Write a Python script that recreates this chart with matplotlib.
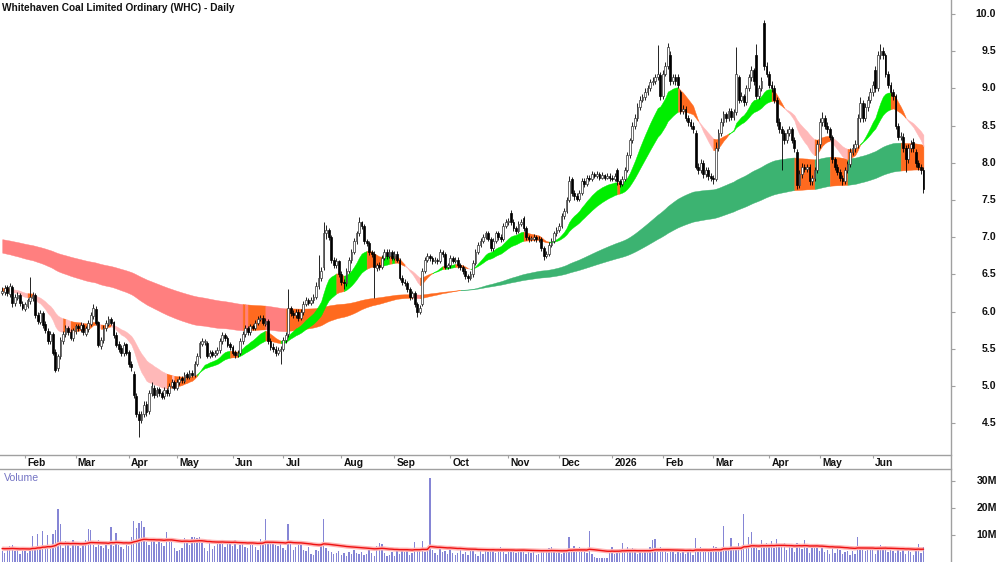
import numpy as np
import pandas as pd
import matplotlib
matplotlib.use("Agg")
import matplotlib.pyplot as plt
from matplotlib.lines import Line2D
from matplotlib.transforms import blended_transform_factory

plt.rcParams['font.family'] = ['Liberation Sans', 'DejaVu Sans']

# --- daily prices ($) ---
opens = [
    6.25, 6.26, 6.33, 6.24, 6.33, 6.12, 6.18, 6.22, 6.10, 6.04,
    6.08, 6.14, 6.18, 6.22, 5.96, 5.86, 5.98, 5.83, 5.74, 5.60,
    5.70, 5.46, 5.24, 5.40, 5.60, 5.70, 5.78, 5.72, 5.64, 5.74,
    5.80, 5.76, 5.82, 5.70, 5.77, 5.84, 5.94, 6.04, 5.86, 5.54,
    5.62, 5.78, 5.84, 5.90, 5.86, 5.68, 5.56, 5.51, 5.44, 5.56,
    5.46, 5.30, 5.16, 4.86, 4.62, 4.54, 4.62, 4.76, 4.66, 4.90,
    4.98, 4.88, 4.96, 4.90, 4.86, 4.95, 4.90, 5.00, 5.05, 4.98,
    5.05, 5.11, 5.07, 5.16, 5.12, 5.18, 5.15, 5.30, 5.40, 5.57,
    5.59, 5.58, 5.40, 5.46, 5.42, 5.45, 5.48, 5.60, 5.68, 5.64,
    5.56, 5.52, 5.46, 5.42, 5.45, 5.60, 5.70, 5.78, 5.72, 5.80,
    5.78, 5.85, 5.90, 5.92, 5.84, 5.88, 5.60, 5.53, 5.50, 5.45,
    5.47, 5.50, 5.62, 5.70, 6.05, 5.98, 5.95, 6.00, 5.92, 6.00,
    6.10, 6.15, 6.12, 6.15, 6.20, 6.35, 6.45, 6.60, 7.05, 7.10,
    7.00, 6.70, 6.62, 6.68, 6.50, 6.40, 6.38, 6.55, 6.70, 6.80,
    6.95, 7.05, 7.20, 7.15, 6.95, 6.92, 6.80, 6.78, 6.58, 6.63,
    6.60, 6.72, 6.80, 6.75, 6.80, 6.72, 6.78, 6.70, 6.45, 6.40,
    6.38, 6.30, 6.20, 6.25, 6.10, 6.00, 6.10, 6.55, 6.70, 6.75,
    6.72, 6.68, 6.70, 6.68, 6.80, 6.78, 6.60, 6.62, 6.72, 6.68,
    6.70, 6.62, 6.60, 6.55, 6.48, 6.45, 6.50, 6.65, 6.80, 6.90,
    6.95, 7.00, 7.05, 6.98, 6.85, 6.95, 7.05, 7.00, 6.98, 7.15,
    7.20, 7.32, 7.20, 7.12, 7.08, 7.18, 7.26, 7.12, 7.00, 6.98,
    6.98, 7.00, 6.97, 6.98, 6.85, 6.75, 6.78, 6.90, 6.95, 7.05,
    7.10, 7.15, 7.28, 7.35, 7.50, 7.78, 7.60, 7.55, 7.52, 7.60,
    7.75, 7.72, 7.80, 7.78, 7.85, 7.82, 7.85, 7.80, 7.83, 7.80,
    7.82, 7.80, 7.78, 7.90, 7.75, 7.72, 7.78, 7.90, 8.10, 8.30,
    8.50, 8.60, 8.75, 8.85, 8.88, 8.95, 9.00, 9.08, 9.10, 9.15,
    9.18, 8.90, 9.20, 9.30, 9.45, 9.10, 9.15, 9.15, 8.95, 8.70,
    8.72, 8.60, 8.55, 8.50, 8.40, 7.95, 7.90, 8.00, 7.85, 7.90,
    7.82, 7.80, 7.78, 8.20, 8.40, 8.55, 8.65, 8.60, 8.70, 8.62,
    8.68, 9.15, 8.85, 8.90, 8.82, 9.00, 9.15, 9.25, 9.45, 8.90,
    9.00, 9.88, 9.30, 9.20, 9.05, 9.00, 8.85, 8.55, 8.45, 8.40,
    8.30, 8.40, 8.45, 8.30, 8.15, 7.70, 7.85, 7.95, 7.92, 7.95,
    7.75, 7.80, 7.90, 8.25, 8.55, 8.60, 8.50, 8.45, 8.35, 8.05,
    7.95, 7.88, 7.80, 7.75, 7.90, 7.98, 8.15, 8.20, 8.25, 8.60,
    8.80, 8.60, 8.75, 8.85, 8.95, 9.25, 9.00, 9.45, 9.50, 9.45,
    9.20, 9.05, 8.95, 8.90, 8.50, 8.35, 8.35, 8.20, 8.05, 8.20,
    8.28, 8.15, 8.00, 7.95, 7.90,
]
highs = [
    6.33, 6.36, 6.36, 6.38, 6.36, 6.24, 6.26, 6.25, 6.14, 6.13,
    6.18, 6.47, 6.26, 6.25, 6.00, 6.02, 6.01, 5.88, 5.78, 5.74,
    5.72, 5.50, 5.43, 5.66, 5.74, 5.82, 5.81, 5.76, 5.78, 5.84,
    5.84, 5.86, 5.85, 5.81, 5.89, 5.99, 6.10, 6.07, 5.88, 5.66,
    5.82, 5.89, 5.94, 5.93, 5.88, 5.72, 5.60, 5.55, 5.59, 5.58,
    5.48, 5.34, 5.20, 4.90, 4.66, 4.66, 4.80, 4.80, 4.94, 5.05,
    5.02, 4.99, 4.99, 4.93, 4.99, 4.98, 5.04, 5.09, 5.08, 5.09,
    5.14, 5.14, 5.19, 5.19, 5.22, 5.22, 5.34, 5.44, 5.61, 5.64,
    5.63, 5.61, 5.49, 5.48, 5.49, 5.52, 5.64, 5.72, 5.71, 5.67,
    5.59, 5.55, 5.48, 5.49, 5.64, 5.74, 5.82, 5.80, 5.84, 5.83,
    5.89, 5.94, 5.96, 5.95, 5.91, 5.90, 5.64, 5.58, 5.54, 5.52,
    5.54, 5.66, 5.72, 6.30, 6.08, 6.02, 6.04, 6.03, 6.04, 6.14,
    6.19, 6.18, 6.19, 6.24, 6.40, 6.76, 6.60, 7.20, 7.16, 7.13,
    7.03, 6.74, 6.72, 6.70, 6.54, 6.44, 6.59, 6.74, 6.84, 6.99,
    7.09, 7.27, 7.22, 7.18, 6.98, 6.95, 6.83, 6.82, 6.66, 6.67,
    6.76, 6.84, 6.84, 6.84, 6.83, 6.82, 6.81, 6.72, 6.49, 6.44,
    6.41, 6.33, 6.28, 6.28, 6.13, 6.09, 6.59, 6.74, 6.79, 6.78,
    6.75, 6.74, 6.72, 6.84, 6.83, 6.80, 6.66, 6.76, 6.75, 6.74,
    6.73, 6.65, 6.63, 6.58, 6.51, 6.54, 6.69, 6.84, 6.94, 6.99,
    7.04, 7.09, 7.08, 7.00, 6.99, 7.09, 7.08, 7.04, 7.19, 7.24,
    7.26, 7.36, 7.24, 7.15, 7.22, 7.24, 7.29, 7.15, 7.03, 7.02,
    7.04, 7.03, 7.01, 7.00, 6.88, 6.81, 6.94, 6.99, 7.09, 7.14,
    7.19, 7.32, 7.39, 7.54, 7.82, 7.81, 7.64, 7.59, 7.64, 7.79,
    7.79, 7.84, 7.83, 7.89, 7.88, 7.89, 7.87, 7.87, 7.85, 7.86,
    7.86, 7.83, 7.86, 7.93, 7.78, 7.82, 7.94, 8.14, 8.34, 8.55,
    8.65, 8.80, 8.90, 8.92, 9.00, 9.05, 9.12, 9.15, 9.20, 9.58,
    9.22, 9.25, 9.35, 9.61, 9.50, 9.20, 9.19, 9.19, 8.98, 8.78,
    8.76, 8.64, 8.59, 8.55, 8.44, 8.00, 8.05, 8.04, 7.94, 7.94,
    7.86, 7.84, 8.28, 8.46, 8.60, 8.70, 8.68, 8.74, 8.73, 8.72,
    9.56, 9.18, 8.95, 8.93, 9.05, 9.20, 9.30, 9.28, 9.60, 9.05,
    9.15, 9.92, 9.35, 9.24, 9.10, 9.04, 8.88, 8.60, 8.50, 8.44,
    8.45, 8.50, 8.48, 8.35, 8.18, 7.90, 8.00, 7.99, 7.99, 7.98,
    7.84, 7.94, 8.30, 8.60, 8.68, 8.64, 8.55, 8.48, 8.38, 8.08,
    7.98, 7.92, 7.84, 7.94, 8.02, 8.20, 8.25, 8.30, 8.65, 8.88,
    8.84, 8.80, 8.90, 9.00, 9.10, 9.30, 9.50, 9.60, 9.55, 9.48,
    9.24, 9.08, 8.99, 8.93, 8.54, 8.42, 8.40, 8.24, 8.25, 8.30,
    8.33, 8.18, 8.04, 7.99, 7.94,
]
lows = [
    6.22, 6.22, 6.21, 6.20, 6.06, 6.08, 6.15, 6.08, 6.02, 6.01,
    6.05, 6.10, 6.14, 5.92, 5.84, 5.83, 5.78, 5.71, 5.56, 5.56,
    5.42, 5.19, 5.20, 5.36, 5.56, 5.66, 5.68, 5.62, 5.60, 5.70,
    5.74, 5.72, 5.68, 5.67, 5.73, 5.81, 5.90, 5.82, 5.52, 5.50,
    5.58, 5.74, 5.80, 5.82, 5.64, 5.52, 5.46, 5.40, 5.41, 5.42,
    5.26, 5.20, 4.84, 4.58, 4.31, 4.50, 4.58, 4.60, 4.62, 4.86,
    4.84, 4.85, 4.86, 4.82, 4.83, 4.86, 4.87, 4.97, 4.94, 4.95,
    5.02, 5.04, 5.04, 5.09, 5.09, 5.12, 5.12, 5.27, 5.37, 5.54,
    5.55, 5.37, 5.37, 5.39, 5.39, 5.42, 5.45, 5.56, 5.61, 5.52,
    5.48, 5.42, 5.38, 5.39, 5.42, 5.57, 5.66, 5.69, 5.69, 5.75,
    5.75, 5.82, 5.87, 5.82, 5.81, 5.56, 5.48, 5.46, 5.40, 5.42,
    5.30, 5.47, 5.58, 5.66, 5.94, 5.92, 5.92, 5.88, 5.89, 5.96,
    6.07, 6.09, 6.09, 6.12, 6.17, 6.31, 6.41, 6.56, 6.98, 6.96,
    6.66, 6.58, 6.58, 6.46, 6.36, 6.30, 6.35, 6.52, 6.66, 6.77,
    6.91, 7.01, 7.11, 6.91, 6.88, 6.76, 6.74, 6.18, 6.55, 6.56,
    6.57, 6.69, 6.71, 6.72, 6.69, 6.69, 6.67, 6.42, 6.36, 6.34,
    6.26, 6.16, 6.17, 6.06, 5.93, 5.97, 6.07, 6.52, 6.67, 6.68,
    6.64, 6.65, 6.64, 6.65, 6.74, 6.57, 6.57, 6.59, 6.65, 6.65,
    6.58, 6.56, 6.51, 6.44, 6.40, 6.42, 6.47, 6.62, 6.77, 6.87,
    6.92, 6.97, 6.95, 6.81, 6.82, 6.92, 6.96, 6.94, 6.95, 7.12,
    7.17, 7.16, 7.08, 7.04, 7.05, 7.15, 7.09, 6.96, 6.94, 6.95,
    6.95, 6.94, 6.94, 6.82, 6.70, 6.72, 6.75, 6.87, 6.92, 7.02,
    7.07, 7.12, 7.25, 7.32, 7.47, 7.56, 7.50, 7.48, 7.49, 7.57,
    7.68, 7.69, 7.75, 7.75, 7.79, 7.79, 7.77, 7.78, 7.77, 7.78,
    7.76, 7.75, 7.75, 7.70, 7.68, 7.69, 7.75, 7.87, 8.07, 8.27,
    8.46, 8.56, 8.71, 8.82, 8.84, 8.91, 8.96, 9.04, 9.06, 9.11,
    8.85, 8.86, 9.16, 9.26, 9.05, 9.06, 9.05, 9.00, 8.66, 8.66,
    8.56, 8.50, 8.46, 8.40, 7.91, 7.85, 7.86, 7.80, 7.81, 7.77,
    7.75, 7.72, 7.75, 8.16, 8.36, 8.50, 8.55, 8.56, 8.58, 8.58,
    8.64, 8.80, 8.82, 8.77, 8.78, 8.96, 9.10, 9.05, 8.86, 8.86,
    8.96, 9.25, 9.15, 9.00, 8.95, 8.80, 8.50, 8.40, 7.90, 8.25,
    8.26, 8.36, 8.26, 8.15, 7.65, 7.66, 7.80, 7.88, 7.88, 7.70,
    7.70, 7.76, 7.86, 8.20, 8.50, 8.45, 8.40, 8.30, 8.00, 7.90,
    7.83, 7.75, 7.70, 7.72, 7.86, 7.94, 8.10, 8.15, 8.20, 8.55,
    8.55, 8.56, 8.70, 8.80, 8.90, 8.95, 8.96, 9.40, 9.40, 9.15,
    9.00, 8.90, 8.85, 8.45, 8.30, 8.30, 8.15, 7.88, 8.00, 8.15,
    8.15, 7.95, 7.90, 7.85, 7.60,
]
closes = [
    6.28, 6.32, 6.25, 6.35, 6.12, 6.20, 6.22, 6.12, 6.05, 6.10,
    6.15, 6.20, 6.22, 5.95, 5.88, 5.98, 5.82, 5.75, 5.60, 5.70,
    5.45, 5.22, 5.40, 5.62, 5.70, 5.78, 5.72, 5.65, 5.75, 5.80,
    5.78, 5.82, 5.72, 5.78, 5.85, 5.95, 6.05, 5.85, 5.55, 5.62,
    5.78, 5.85, 5.90, 5.85, 5.68, 5.55, 5.50, 5.45, 5.55, 5.45,
    5.30, 5.25, 4.88, 4.62, 4.55, 4.62, 4.75, 4.65, 4.90, 5.00,
    4.88, 4.95, 4.90, 4.85, 4.95, 4.90, 5.00, 5.05, 4.98, 5.05,
    5.10, 5.08, 5.15, 5.12, 5.18, 5.15, 5.30, 5.40, 5.58, 5.60,
    5.60, 5.40, 5.45, 5.42, 5.45, 5.48, 5.60, 5.68, 5.65, 5.55,
    5.52, 5.45, 5.42, 5.45, 5.60, 5.70, 5.78, 5.72, 5.80, 5.78,
    5.85, 5.90, 5.92, 5.85, 5.88, 5.60, 5.52, 5.50, 5.45, 5.48,
    5.50, 5.62, 5.68, 6.05, 5.98, 5.95, 6.00, 5.92, 6.00, 6.10,
    6.15, 6.12, 6.15, 6.20, 6.35, 6.45, 6.55, 7.05, 7.10, 7.00,
    6.70, 6.62, 6.68, 6.50, 6.40, 6.38, 6.55, 6.70, 6.80, 6.95,
    7.05, 7.20, 7.15, 6.95, 6.92, 6.80, 6.78, 6.60, 6.62, 6.60,
    6.72, 6.80, 6.75, 6.80, 6.72, 6.78, 6.70, 6.45, 6.40, 6.38,
    6.30, 6.20, 6.25, 6.10, 6.00, 6.05, 6.55, 6.70, 6.75, 6.72,
    6.68, 6.70, 6.68, 6.80, 6.78, 6.60, 6.62, 6.72, 6.68, 6.70,
    6.62, 6.60, 6.55, 6.48, 6.45, 6.50, 6.65, 6.80, 6.90, 6.95,
    7.00, 7.05, 6.98, 6.85, 6.95, 7.05, 7.00, 6.98, 7.15, 7.20,
    7.22, 7.20, 7.12, 7.08, 7.18, 7.20, 7.12, 7.00, 6.98, 6.98,
    7.00, 6.97, 6.98, 6.85, 6.75, 6.78, 6.90, 6.95, 7.05, 7.10,
    7.15, 7.28, 7.35, 7.50, 7.75, 7.60, 7.55, 7.52, 7.60, 7.75,
    7.72, 7.80, 7.78, 7.85, 7.82, 7.85, 7.80, 7.83, 7.80, 7.82,
    7.80, 7.78, 7.82, 7.75, 7.72, 7.78, 7.90, 8.10, 8.30, 8.50,
    8.60, 8.75, 8.85, 8.88, 8.95, 9.00, 9.08, 9.10, 9.15, 9.20,
    8.90, 9.20, 9.30, 9.55, 9.10, 9.15, 9.10, 9.05, 8.70, 8.72,
    8.60, 8.55, 8.50, 8.45, 7.95, 7.90, 8.00, 7.85, 7.90, 7.82,
    7.80, 7.78, 8.20, 8.40, 8.55, 8.65, 8.60, 8.70, 8.62, 8.68,
    9.20, 8.85, 8.90, 8.82, 9.00, 9.15, 9.25, 9.10, 8.90, 9.00,
    9.10, 9.30, 9.20, 9.05, 9.00, 8.85, 8.55, 8.45, 8.40, 8.30,
    8.40, 8.45, 8.30, 8.20, 7.70, 7.85, 7.95, 7.92, 7.95, 7.75,
    7.80, 7.90, 8.25, 8.55, 8.60, 8.50, 8.45, 8.35, 8.05, 7.95,
    7.88, 7.80, 7.75, 7.90, 7.98, 8.15, 8.20, 8.25, 8.60, 8.80,
    8.60, 8.75, 8.85, 8.95, 9.05, 9.00, 9.45, 9.50, 9.45, 9.20,
    9.05, 8.95, 8.90, 8.50, 8.35, 8.35, 8.20, 8.05, 8.20, 8.25,
    8.20, 8.00, 7.95, 7.90, 7.65,
]
# daily volume, millions of shares
volumes = [
    4.2, 3.5, 5.1, 5.8, 6.2, 3.9, 4.5, 2.8, 5.6, 4.1,
    3.2, 5.5, 9.8, 4.9, 10.2, 5.8, 11.5, 6.0, 9.9, 4.8,
    10.3, 12.0, 19.5, 14.2, 5.1, 7.6, 6.8, 5.2, 8.1, 6.5,
    5.9, 5.1, 7.2, 8.3, 12.2, 11.9, 6.4, 5.5, 8.0, 6.0,
    5.3, 6.7, 4.8, 12.9, 5.9, 10.8, 6.4, 5.5, 4.7, 7.8,
    5.8, 9.4, 15.0, 12.5, 14.4, 15.1, 13.1, 7.3, 6.2, 8.4,
    7.9, 6.6, 8.2, 7.0, 5.8, 11.0, 8.4, 8.2, 5.1, 4.0,
    4.5, 5.2, 9.0, 7.6, 6.4, 9.1, 9.4, 8.8, 9.1, 7.2,
    5.3, 4.1, 7.0, 4.8, 6.1, 6.6, 7.2, 8.3, 5.7, 6.8,
    7.5, 6.0, 8.1, 4.7, 6.4, 7.1, 5.6, 5.0, 7.9, 6.8,
    5.4, 4.6, 8.4, 7.7, 15.9, 7.2, 6.7, 7.3, 6.4, 5.8,
    7.3, 5.2, 4.4, 14.1, 6.8, 4.3, 5.5, 6.4, 7.0, 4.6,
    4.0, 5.6, 3.0, 2.6, 4.5, 4.1, 6.5, 16.0, 5.2, 4.1,
    3.8, 2.9, 3.5, 4.0, 2.7, 3.3, 2.4, 3.7, 3.0, 4.6,
    3.2, 2.9, 3.8, 2.6, 3.1, 4.4, 3.3, 2.2, 5.8, 6.9,
    6.5, 3.4, 2.2, 2.6, 3.7, 2.4, 4.2, 3.0, 4.6, 3.6,
    5.1, 2.7, 3.4, 7.3, 4.0, 4.9, 7.9, 3.8, 5.4, 31.0,
    4.6, 3.2, 2.5, 5.3, 3.6, 4.1, 2.8, 5.5, 3.3, 2.7,
    3.5, 5.4, 2.9, 3.7, 2.6, 4.3, 5.2, 3.1, 2.4, 4.0,
    3.0, 5.2, 3.6, 4.1, 5.0, 3.3, 4.6, 5.6, 4.4, 3.1,
    4.3, 4.0, 3.8, 3.3, 4.5, 4.3, 5.2, 2.9, 3.8, 3.4,
    3.8, 2.7, 3.1, 4.5, 3.9, 3.6, 5.1, 5.7, 4.0, 3.4,
    3.6, 3.1, 4.8, 4.3, 9.2, 4.2, 6.0, 4.5, 5.4, 5.0,
    4.1, 3.4, 11.4, 3.0, 2.0, 1.6, 1.5, 1.6, 1.4, 1.5,
    3.5, 5.4, 3.0, 4.2, 4.7, 7.2, 3.9, 5.7, 4.4, 5.1,
    3.8, 2.9, 4.0, 3.4, 3.6, 4.1, 5.5, 8.0, 8.5, 4.7,
    5.7, 4.2, 5.0, 3.4, 4.0, 4.8, 3.1, 3.7, 3.3, 4.0,
    2.8, 4.3, 4.9, 2.6, 9.0, 4.5, 5.4, 3.7, 4.1, 3.8,
    4.9, 6.0, 5.4, 3.9, 5.0, 13.2, 5.3, 4.8, 8.9, 5.6,
    5.2, 6.9, 4.7, 17.8, 6.4, 9.1, 11.2, 6.1, 5.0, 4.6,
    8.3, 6.2, 6.9, 5.4, 7.7, 5.0, 8.6, 6.1, 5.7, 7.0,
    4.4, 6.0, 5.2, 3.8, 7.1, 6.6, 4.9, 8.3, 5.0, 3.2,
    5.8, 6.5, 6.4, 4.0, 5.5, 3.6, 4.5, 2.8, 6.0, 3.4,
    5.1, 4.6, 3.0, 3.6, 4.2, 2.5, 4.0, 3.1, 9.1, 4.8,
    5.5, 3.9, 4.4, 6.1, 5.0, 3.0, 5.6, 6.2, 4.4, 5.9,
    3.7, 5.1, 4.0, 3.3, 5.4, 3.6, 4.8, 2.9, 5.0, 3.7,
    2.7, 4.1, 6.5, 3.3, 5.6,
]

# moving-average values already in place on the first bar
short_seeds = [6.27, 6.32]      # 15-day, 30-day EMA
long_seeds = [6.80, 6.98]       # 130-day, 220-day EMA
vol_ma_seed = 5.0

asx_holidays = ['2025-01-27', '2025-04-18', '2025-04-21', '2025-04-25', '2025-06-09',
                '2025-12-25', '2025-12-26', '2026-01-01', '2026-01-26', '2026-04-03',
                '2026-04-06', '2026-06-08']

price_ticks = [4.5, 5.0, 5.5, 6.0, 6.5, 7.0, 7.5, 8.0, 8.5, 9.0, 9.5, 10.0]
vol_ticks = [10, 20, 30]

GREEN_S = '#00ee00'
GREEN_L = '#3cb371'
RED_S = '#ffb8b8'
RED_L = '#ff7f7f'
ORANGE = '#ff6a1f'
AXIS_GREY = '#a0a0a0'


def ema(values, period, seed):
    a = 2.0 / (period + 1)
    out = []
    prev = seed
    for val in values:
        prev = prev + a * (val - prev)
        out.append(prev)
    return np.array(out)


def band_colours(fast, slow, seed, up_col, down_col):
    # green: fast above slow and rising, red: below and falling, orange: mixed
    prev = np.r_[seed, fast[:-1]]
    rising = fast > prev
    above = fast > slow
    cols = []
    for r, ab in zip(rising, above):
        if r and ab:
            cols.append(up_col)
        elif not r and not ab:
            cols.append(down_col)
        else:
            cols.append(ORANGE)
    return cols


def draw_band(ax, x, fast, slow, cols, z):
    lo = np.minimum(fast, slow)
    hi = np.maximum(fast, slow)
    n = len(x)
    start = 0
    for i in range(1, n + 1):
        if i == n or cols[i] != cols[start]:
            s = max(start - 1, 0)
            ax.fill_between(x[s:i], lo[s:i], hi[s:i], facecolor=cols[start],
                            edgecolor=cols[start], linewidth=0.3, zorder=z)
            start = i


o = np.array(opens)
h = np.array(highs)
l = np.array(lows)
c = np.array(closes)
v = np.array(volumes)
n = len(c)
x = np.arange(n)

dates = pd.bdate_range('2025-01-20', '2026-06-30')
dates = dates[~dates.isin(pd.to_datetime(asx_holidays))][:n]

W, H = 1000, 562
fig = plt.figure(figsize=(W / 100, H / 100), dpi=100)
fig.patch.set_facecolor('white')

RIGHT = 951
AX_BOTTOM = 455
VOL_TOP = 469
ax = fig.add_axes([0, 1 - AX_BOTTOM / H, RIGHT / W, AX_BOTTOM / H])
axv = fig.add_axes([0, 0, RIGHT / W, (H - VOL_TOP) / H])

xlo, xhi = -0.87, 374.9
ax.set_xlim(xlo, xhi)
ax.set_ylim(4.073, 10.188)
axv.set_xlim(xlo, xhi)
axv.set_ylim(0, 34.4)

# --- ribbons ---
f_s = ema(c, 15, short_seeds[0])
s_s = ema(c, 30, short_seeds[1])
f_l = ema(c, 130, long_seeds[0])
s_l = ema(c, 220, long_seeds[1])
draw_band(ax, x, f_l, s_l, band_colours(f_l, s_l, long_seeds[0], GREEN_L, RED_L), 1)
draw_band(ax, x, f_s, s_s, band_colours(f_s, s_s, short_seeds[0], GREEN_S, RED_S), 2)

# --- candles ---
up = c >= o
ax.vlines(x, l, h, color='black', linewidth=0.6, zorder=3)
body_lo = np.minimum(o, c)
body_h = np.maximum(np.abs(c - o), 0.01)
ax.bar(x[up], body_h[up], bottom=body_lo[up], width=0.7, color='white',
       edgecolor='#333333', linewidth=0.5, zorder=4)
ax.bar(x[~up], body_h[~up], bottom=body_lo[~up], width=0.7, color='black',
       edgecolor='black', linewidth=0.5, zorder=4)

# --- volume ---
axv.bar(x, v, width=0.55, color='#8585d5', linewidth=0)
vol_ma = ema(v, 50, vol_ma_seed)
axv.plot(x, vol_ma, color='#ffb4b4', linewidth=3.0, solid_capstyle='butt', zorder=3)
axv.plot(x, vol_ma, color='#ee1111', linewidth=1.0, zorder=4)

for a in (ax, axv):
    for sp in a.spines.values():
        sp.set_visible(False)
    a.set_facecolor('none')
    a.tick_params(left=False, labelleft=False, labelbottom=False, bottom=False,
                  right=True, labelright=False, direction='out', length=3,
                  color=AXIS_GREY, width=0.8)
    a.yaxis.tick_right()

ax.set_yticks(price_ticks)
axv.set_yticks(vol_ticks)
axv.set_xticks([])

# month ticks along the bottom of the price panel
month_pos, month_lab = [], []
prev_m = None
for i, d in enumerate(dates):
    if prev_m is not None and d.month != prev_m:
        month_pos.append(i)
        month_lab.append(str(d.year) if d.month == 1 else d.strftime('%b'))
    prev_m = d.month
ax.set_xticks(month_pos)
ax.tick_params(axis='x', bottom=True, direction='out', length=2.5, color=AXIS_GREY)

bt = blended_transform_factory(ax.transData, fig.transFigure)
for p, lab in zip(month_pos, month_lab):
    ax.text(p + 0.9, 1 - 463 / H, lab, transform=bt, ha='left', va='center',
            fontsize=7.4, fontweight='bold', color='#111111', clip_on=False)

# right-hand axis labels
tp = blended_transform_factory(fig.transFigure, ax.transData)
for t in price_ticks:
    ax.text(0.996, t, f'{t:.1f}', transform=tp, ha='right', va='center',
            fontsize=7.6, fontweight='bold', color='#111111', clip_on=False)
tv = blended_transform_factory(fig.transFigure, axv.transData)
for t in vol_ticks:
    axv.text(0.997, t, f'{t}M', transform=tv, ha='right', va='center',
             fontsize=7.6, fontweight='bold', color='#111111', clip_on=False)

# frame lines
fig.add_artist(Line2D([RIGHT / W, RIGHT / W], [0, 1], transform=fig.transFigure,
                      color=AXIS_GREY, linewidth=1.0))
fig.add_artist(Line2D([0, RIGHT / W], [1 - AX_BOTTOM / H] * 2, transform=fig.transFigure,
                      color=AXIS_GREY, linewidth=1.0))
fig.add_artist(Line2D([0, RIGHT / W], [1 - VOL_TOP / H] * 2, transform=fig.transFigure,
                      color=AXIS_GREY, linewidth=1.0))

fig.text(2 / W, 1 - 8 / H, 'Whitehaven Coal Limited Ordinary (WHC) - Daily',
         ha='left', va='center', fontsize=7.3, fontweight='bold', color='#111111')
fig.text(4 / W, 1 - 478 / H, 'Volume', ha='left', va='center', fontsize=7.6,
         color='#7474c4')

fig.savefig('out.png', dpi=100, facecolor='white')
